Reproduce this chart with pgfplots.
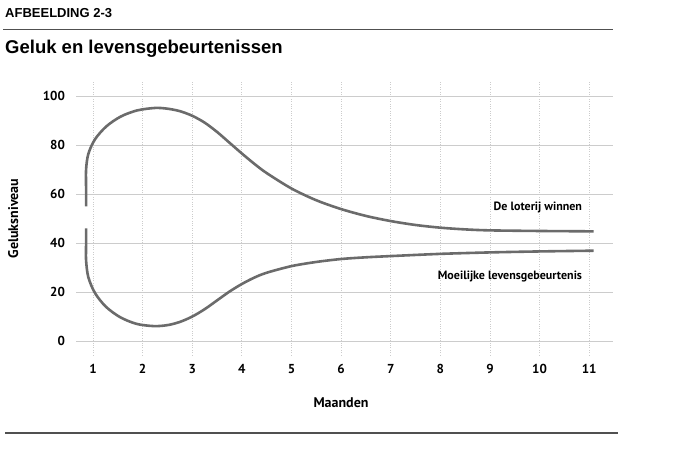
\documentclass[border=0pt]{standalone}
\usepackage{fontspec}
\setmainfont{PT Sans}
\newfontfamily\helv{Liberation Sans}
\usepackage{pgfplots}
\pgfplotsset{compat=1.18}
\definecolor{curve}{HTML}{6B6B6B}
\definecolor{gridc}{HTML}{CCCCCC}
\definecolor{rule}{HTML}{505050}
\begin{document}
\begin{tikzpicture}
\path[use as bounding box] (0,0) rectangle (697bp,453bp);
% header
\node[anchor=base west, inner sep=0] at (5bp,435bp) {\helv\bfseries\fontsize{13bp}{15bp}\selectfont AFBEELDING 2-3};
\draw[rule, line width=1.3bp] (3bp,423.7bp) -- (613bp,423.7bp);
\node[anchor=base west, inner sep=0] at (5bp,399.7bp) {\helv\bfseries\fontsize{18.5bp}{22bp}\selectfont Geluk en levensgebeurtenissen};
\draw[rule, line width=1.3bp] (5bp,20bp) -- (618bp,20bp);
\begin{axis}[
  at={(76bp,98bp)}, anchor=south west,
  scale only axis, width=537bp, height=273bp,
  xmin=0.657, xmax=11.48, ymin=-5.7, ymax=105.8,
  axis line style={draw=none},
  major tick length=0,
  xtick={1,2,3,4,5,6,7,8,9,10,11},
  ytick={0,20,40,60,80,100},
  xmajorgrids, ymajorgrids,
  x grid style={gridc, dotted, line width=0.8bp},
  y grid style={gridc, line width=0.9bp},
  /pgf/number format/assume math mode=true,
  tick label style={font=\bfseries\fontsize{13bp}{15bp}\selectfont, text=black},
  xticklabel shift=6bp,
  yticklabel shift=7.5bp,
  xlabel={Maanden},
  ylabel={Geluksniveau},
  every axis x label/.style={at={(axis description cs:0.4935,-0.176)}, anchor=center, font=\bfseries\fontsize{14bp}{16bp}\selectfont},
  every axis y label/.style={at={(axis description cs:-0.117,0.5)}, rotate=90, anchor=center, font=\bfseries\fontsize{14bp}{16bp}\selectfont},
  clip=false,
]
\addplot[curve, line width=2.6bp, smooth] coordinates {
 (0.86,55) (0.86,62.5) (0.86,70) (0.905,76.4) (1.04,82.4) (1.27,87.7) (1.56,91.7) (1.89,94.2)
 (2.25,95.2) (2.5,94.9) (2.75,93.9) (3.0,92.0) (3.25,89.2) (3.5,85.4) (3.75,81.0) (4.0,76.6)
 (4.25,72.4) (4.5,68.6) (5,62.3) (5.5,57.5) (6,53.9) (6.5,51.1) (7,49.0) (7.5,47.4) (8,46.3)
 (8.5,45.6) (9,45.2) (10,44.95) (11.09,44.8)
};
\addplot[curve, line width=2.6bp, smooth] coordinates {
 (0.86,46) (0.86,39.5) (0.86,33) (0.905,26.1) (1.04,19.6) (1.26,14) (1.55,9.7) (1.88,7.0)
 (2.23,6.1) (2.5,6.5) (2.75,7.8) (3.0,10.0) (3.25,13) (3.5,16.6) (3.75,20.2) (4,23.3)
 (4.25,25.9) (4.5,27.9) (5,30.6) (5.5,32.3) (6,33.5) (6.5,34.2) (7,34.7) (8,35.6) (9,36.2)
 (10,36.6) (11.09,36.9)
};
\node[anchor=east, inner sep=0, font=\bfseries\fontsize{12bp}{14bp}\selectfont] at (axis cs:10.86,54.4) {De loterij winnen};
\node[anchor=east, inner sep=0, font=\bfseries\fontsize{12bp}{14bp}\selectfont] at (axis cs:10.86,26.2) {Moeilijke levensgebeurtenis};
\end{axis}
\end{tikzpicture}
\end{document}
